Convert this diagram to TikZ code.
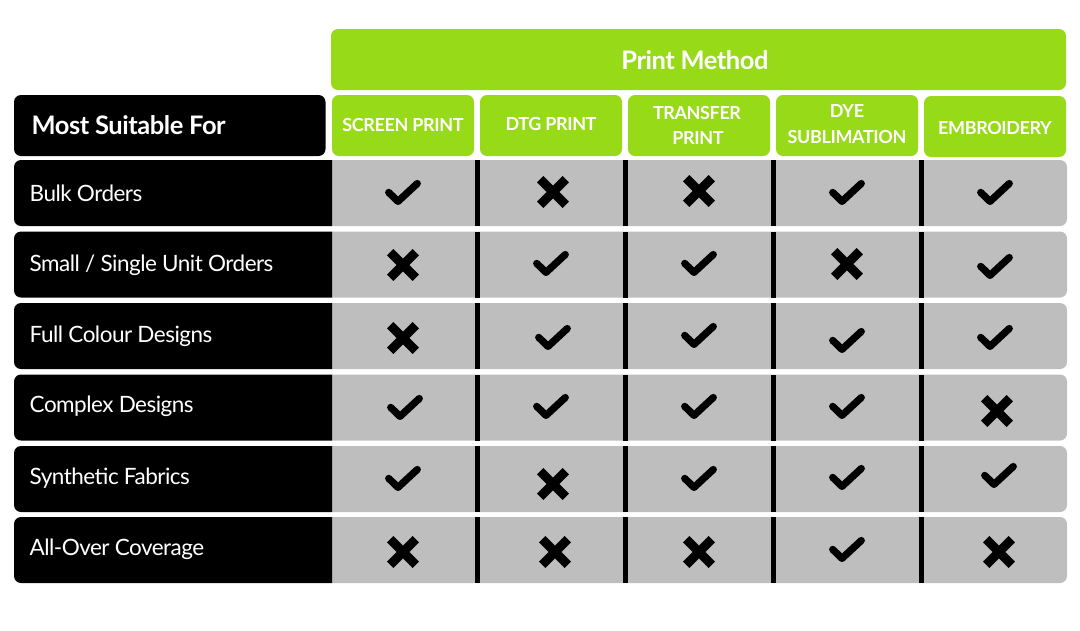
\documentclass[tikz,border=0pt]{standalone}
\usepackage{fontspec}
\setmainfont{Lato}
\definecolor{brandgreen}{HTML}{97DA18}
\definecolor{cellgray}{HTML}{BEBEBE}
\newcommand{\hdrfont}{\fontsize{18}{18}\selectfont\bfseries\addfontfeatures{LetterSpace=-2.2}}
\newcommand{\bigfont}{\fontsize{25.5}{25.5}\selectfont\bfseries\addfontfeatures{LetterSpace=-1.8}}
\tikzset{
  x=1pt,y=-1pt,
  rowlabel/.style={anchor=west,text=white,inner sep=0pt,font=\fontsize{22.5}{24}\selectfont\addfontfeatures{LetterSpace=-2.3}},
  hdrtext/.style={text=white,inner sep=0pt,font=\hdrfont},
  bigtext/.style={text=white,inner sep=0pt,font=\bigfont},
  checkmark/.pic={\draw[black,line width=7.2pt,line cap=round,line join=round] (-14.3,-0.6)--(-5,8.4)--(14.3,-9.5);},
  crossmark/.pic={\draw[black,line width=9pt,line cap=butt] (-12.8,-12.8)--(12.8,12.8) (-12.8,12.8)--(12.8,-12.8);}
}
\begin{document}
\begin{tikzpicture}
\useasboundingbox (0,0) rectangle (1080,630);
% top headers
\fill[brandgreen,rounded corners=7pt] (331,29) rectangle (1066,90);
\node[bigtext] (pm) at (695,60) {Print Method};
\fill[black,rounded corners=7pt] (14,95) rectangle (325.5,156);
\node[bigtext,anchor=west] (msf) at (31.5,125) {Most Suitable For};
% column headers
\foreach \xa/\xb/\ya/\yb in {332/474/95/156,480/622/95/156,628/770/95/156,776/918/95/156,924/1066/96/157}{
  \fill[brandgreen,rounded corners=7pt] (\xa,\ya) rectangle (\xb,\yb);
}
\node[hdrtext] (h1) at (403,125) {SCREEN PRINT};
\node[hdrtext] (h2) at (551,124) {DTG PRINT};
\node[hdrtext] (h3a) at (697,113) {TRANSFER};
\node[hdrtext] (h3b) at (698,138) {PRINT};
\node[hdrtext] (h4a) at (847,111) {DYE};
\node[hdrtext] (h4b) at (847,137) {SUBLIMATION};
\node[hdrtext] (h5) at (995,128) {EMBROIDERY};
% rows
\foreach \ya/\yb/\lab/\ly/\id in {160/226/{Bulk Orders}/193.5/a,231.5/297.5/{Small {/} Single Unit Orders}/265.5/b,303/369/{Full Colour Designs}/336.5/c,374.5/440.5/{Complex Designs}/406.5/d,446/512/{Synthetic Fabrics}/478.5/e,517/583/{All-Over Coverage}/549.5/f}{
  \fill[cellgray] (332,\yb) [rounded corners=7pt] -- (1067,\yb) -- (1067,\ya) [sharp corners] -- (332,\ya) -- cycle;
  \fill[black] (332,\yb) [rounded corners=7pt] -- (14,\yb) -- (14,\ya) [sharp corners] -- (332,\ya) -- cycle;
  \foreach \dx in {474.5,622.5,770.5,918.5}{
    \fill[black] (\dx,\ya) rectangle ++(5.5,\yb-\ya);
  }
  \node[rowlabel] (row\id) at (29.5,\ly) {\lab};
}
% marks
\foreach \px/\py in {403/193,847/193,995/193,
  551/264,699/264,995/267,
  553/338,699/336,847/341,995/338,
  405/408,551/407,699/407,847/407,
  403/479,699/479,847/478,999/476,
  847/550}{
  \pic at (\px,\py) {checkmark};
}
\foreach \px/\py in {553/192,699/191,
  403/265,847/264,
  403/338,
  997/411,
  553/484,
  403/552,555/552,699/552,999/552}{
  \pic at (\px,\py) {crossmark};
}
\end{tikzpicture}
\end{document}
